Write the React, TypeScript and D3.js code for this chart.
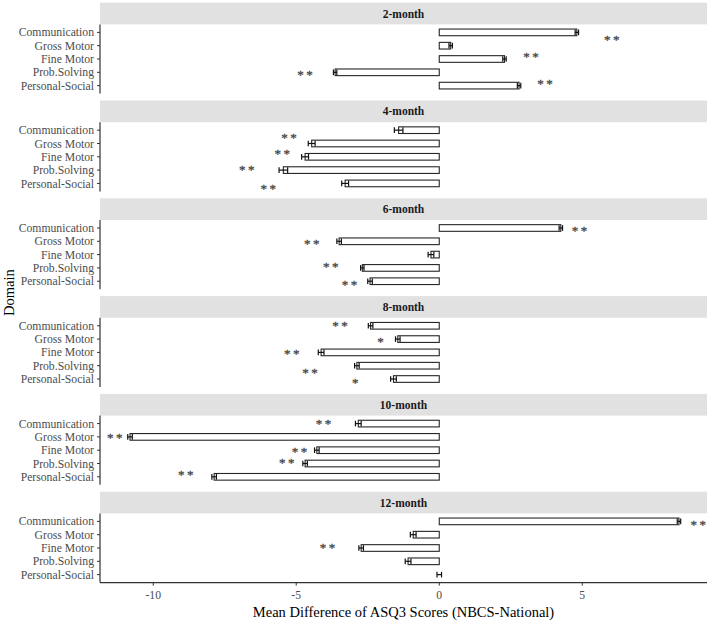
import React from "react";
import * as d3 from "d3";

const months = ["2-month", "4-month", "6-month", "8-month", "10-month", "12-month"];
const domains = ["Communication", "Gross Motor", "Fine Motor", "Prob.Solving", "Personal-Social"];

// mean differences per month (order of domains)
const mean2 = [4.81, 0.4, 2.28, -3.64, 2.79];
const mean4 = [-1.42, -4.46, -4.69, -5.45, -3.29];
const mean6 = [4.25, -3.5, -0.29, -2.69, -2.42];
const mean8 = [-2.4, -1.45, -4.13, -2.88, -1.6];
const mean10 = [-2.83, -10.81, -4.28, -4.69, -7.87];
const mean12 = [8.38, -0.91, -2.73, -1.09, 0.0];
const means = [mean2, mean4, mean6, mean8, mean10, mean12];

// standard errors (estimated)
const se2 = [0.06, 0.06, 0.06, 0.06, 0.06];
const se4 = [0.15, 0.12, 0.12, 0.15, 0.12];
const se6 = [0.06, 0.08, 0.1, 0.06, 0.08];
const se8 = [0.08, 0.08, 0.1, 0.08, 0.1];
const se10 = [0.1, 0.08, 0.08, 0.08, 0.08];
const se12 = [0.06, 0.1, 0.08, 0.1, 0.08];
const ses = [se2, se4, se6, se8, se10, se12];

// significance labels
const sig2 = ["**", "", "**", "**", "**"];
const sig4 = ["", "**", "**", "**", "**"];
const sig6 = ["**", "**", "", "**", "**"];
const sig8 = ["**", "*", "**", "**", "*"];
const sig10 = ["**", "**", "**", "**", "**"];
const sig12 = ["**", "", "**", "", ""];
const sigs = [sig2, sig4, sig6, sig8, sig10, sig12];

// label value positions (x, in score units) and row shift (in category units)
const lab2 = [6.03, 0, 3.21, -4.69, 3.7];
const lab4 = [0, -5.25, -5.49, -6.73, -5.98];
const lab6 = [4.9, -4.46, 0, -3.79, -3.14];
const lab8 = [-3.47, -2.05, -5.16, -4.52, -2.94];
const lab10 = [-4.05, -11.34, -4.89, -5.33, -8.86];
const lab12 = [9.05, 0, -3.91, 0, 0];
const labXs = [lab2, lab4, lab6, lab8, lab10, lab12];

const shift2 = [0.43, 0, -0.32, 0.05, -0.26];
const shift4 = [0, -0.55, -0.35, -0.13, 0.26];
const shift6 = [0.06, 0.05, 0, -0.25, 0.15];
const shift8 = [-0.12, 0.1, -0.05, 0.4, 0.12];
const shift10 = [-0.13, -0.05, -0.05, -0.2, -0.25];
const shift12 = [0.1, 0, -0.17, 0, 0];
const shifts = [shift2, shift4, shift6, shift8, shift10, shift12];

const xTicks = [-10, -5, 0, 5];

const W = 710;
const H = 622;
const plotL = 100;
const plotR = 707;
const top0 = 2.7;
const stripH = 21.7;
const bodyH = 69.2;
const period = 97.8;
const FONT = "'Liberation Serif', 'Times New Roman', serif";

export default function App() {
  const x = d3.scaleLinear().domain([-11.86, 9.36]).range([plotL, plotR]);
  const lastBottom = top0 + (months.length - 1) * period + stripH + bodyH;

  return (
    <svg
      width={W}
      height={H}
      style={{ position: "absolute", left: 0, top: 0, background: "#fff" }}
      fontFamily={FONT}
    >
      {months.map((m, i) => {
        const stripTop = top0 + i * period;
        const bodyTop = stripTop + stripH;
        const bodyBottom = bodyTop + bodyH;
        const y = d3.scalePoint<string>().domain(domains).range([bodyTop, bodyBottom]).padding(0.6);
        const step = y.step();
        const barH = step * 0.5;
        const capH = barH * 0.85;
        return (
          <g key={m}>
            <rect x={plotL} y={stripTop} width={plotR - plotL} height={stripH} fill="#e1e1e1" />
            <text
              x={(plotL + plotR) / 2}
              y={stripTop + stripH / 2}
              dy="0.35em"
              textAnchor="middle"
              fontSize={11.5}
              fontWeight="bold"
              fill="#1a1a1a"
            >
              {m}
            </text>
            {/* y axis */}
            <line x1={plotL} x2={plotL} y1={bodyTop} y2={bodyBottom} stroke="#333" strokeWidth={1.2} />
            {domains.map((d) => (
              <g key={d}>
                <line x1={plotL - 3} x2={plotL} y1={y(d)!} y2={y(d)!} stroke="#333" strokeWidth={1} />
                <text
                  x={plotL - 6}
                  y={y(d)!}
                  dy="0.35em"
                  textAnchor="end"
                  fontSize={11.7}
                  fill="#4d4d4d"
                >
                  {d}
                </text>
              </g>
            ))}
            {/* bars */}
            {domains.map((d, j) => {
              const v = means[i][j];
              const x0 = x(Math.min(0, v));
              const x1 = x(Math.max(0, v));
              return (
                <rect
                  key={"b" + d}
                  x={x0}
                  y={y(d)! - barH / 2}
                  width={Math.max(0, x1 - x0)}
                  height={barH}
                  fill="#fff"
                  stroke="#262626"
                  strokeWidth={1.1}
                />
              );
            })}
            {/* error bars */}
            {domains.map((d, j) => {
              const v = means[i][j];
              const s = ses[i][j];
              const cy = y(d)!;
              return (
                <g key={"e" + d} stroke="#111" strokeWidth={1.2}>
                  <line x1={x(v - s)} x2={x(v + s)} y1={cy} y2={cy} />
                  <line x1={x(v - s)} x2={x(v - s)} y1={cy - capH / 2} y2={cy + capH / 2} />
                  <line x1={x(v + s)} x2={x(v + s)} y1={cy - capH / 2} y2={cy + capH / 2} />
                </g>
              );
            })}
            {/* significance */}
            {domains.map((d, j) => {
              const lab = sigs[i][j];
              if (!lab) return null;
              const cx = x(labXs[i][j]);
              const cy = y(d)! + shifts[i][j] * step;
              const n = lab.length;
              const gap = 9;
              return (
                <g key={"s" + d}>
                  {lab.split("").map((c, k) => (
                    <text
                      key={k}
                      x={cx + (k - (n - 1) / 2) * gap}
                      y={cy + 6}
                      textAnchor="middle"
                      fontSize={13}
                      fill="#4a4a4a"
                      stroke="#4a4a4a"
                      strokeWidth={0.35}
                    >
                      {c}
                    </text>
                  ))}
                </g>
              );
            })}
          </g>
        );
      })}
      {/* x axis */}
      <line x1={plotL} x2={plotR} y1={lastBottom} y2={lastBottom} stroke="#333" strokeWidth={1.2} />
      {xTicks.map((t) => (
        <g key={t}>
          <line x1={x(t)} x2={x(t)} y1={lastBottom} y2={lastBottom + 3} stroke="#333" strokeWidth={1} />
          <text x={x(t)} y={lastBottom + 16} textAnchor="middle" fontSize={11.7} fill="#4d4d4d">
            {t}
          </text>
        </g>
      ))}
      <text x={(plotL + plotR) / 2} y={617} textAnchor="middle" fontSize={14.5} fill="#000">
        Mean Difference of ASQ3 Scores (NBCS-National)
      </text>
      <text
        transform={`translate(14,${(top0 + lastBottom) / 2}) rotate(-90)`}
        textAnchor="middle"
        fontSize={14.5}
        fill="#000"
      >
        Domain
      </text>
    </svg>
  );
}
